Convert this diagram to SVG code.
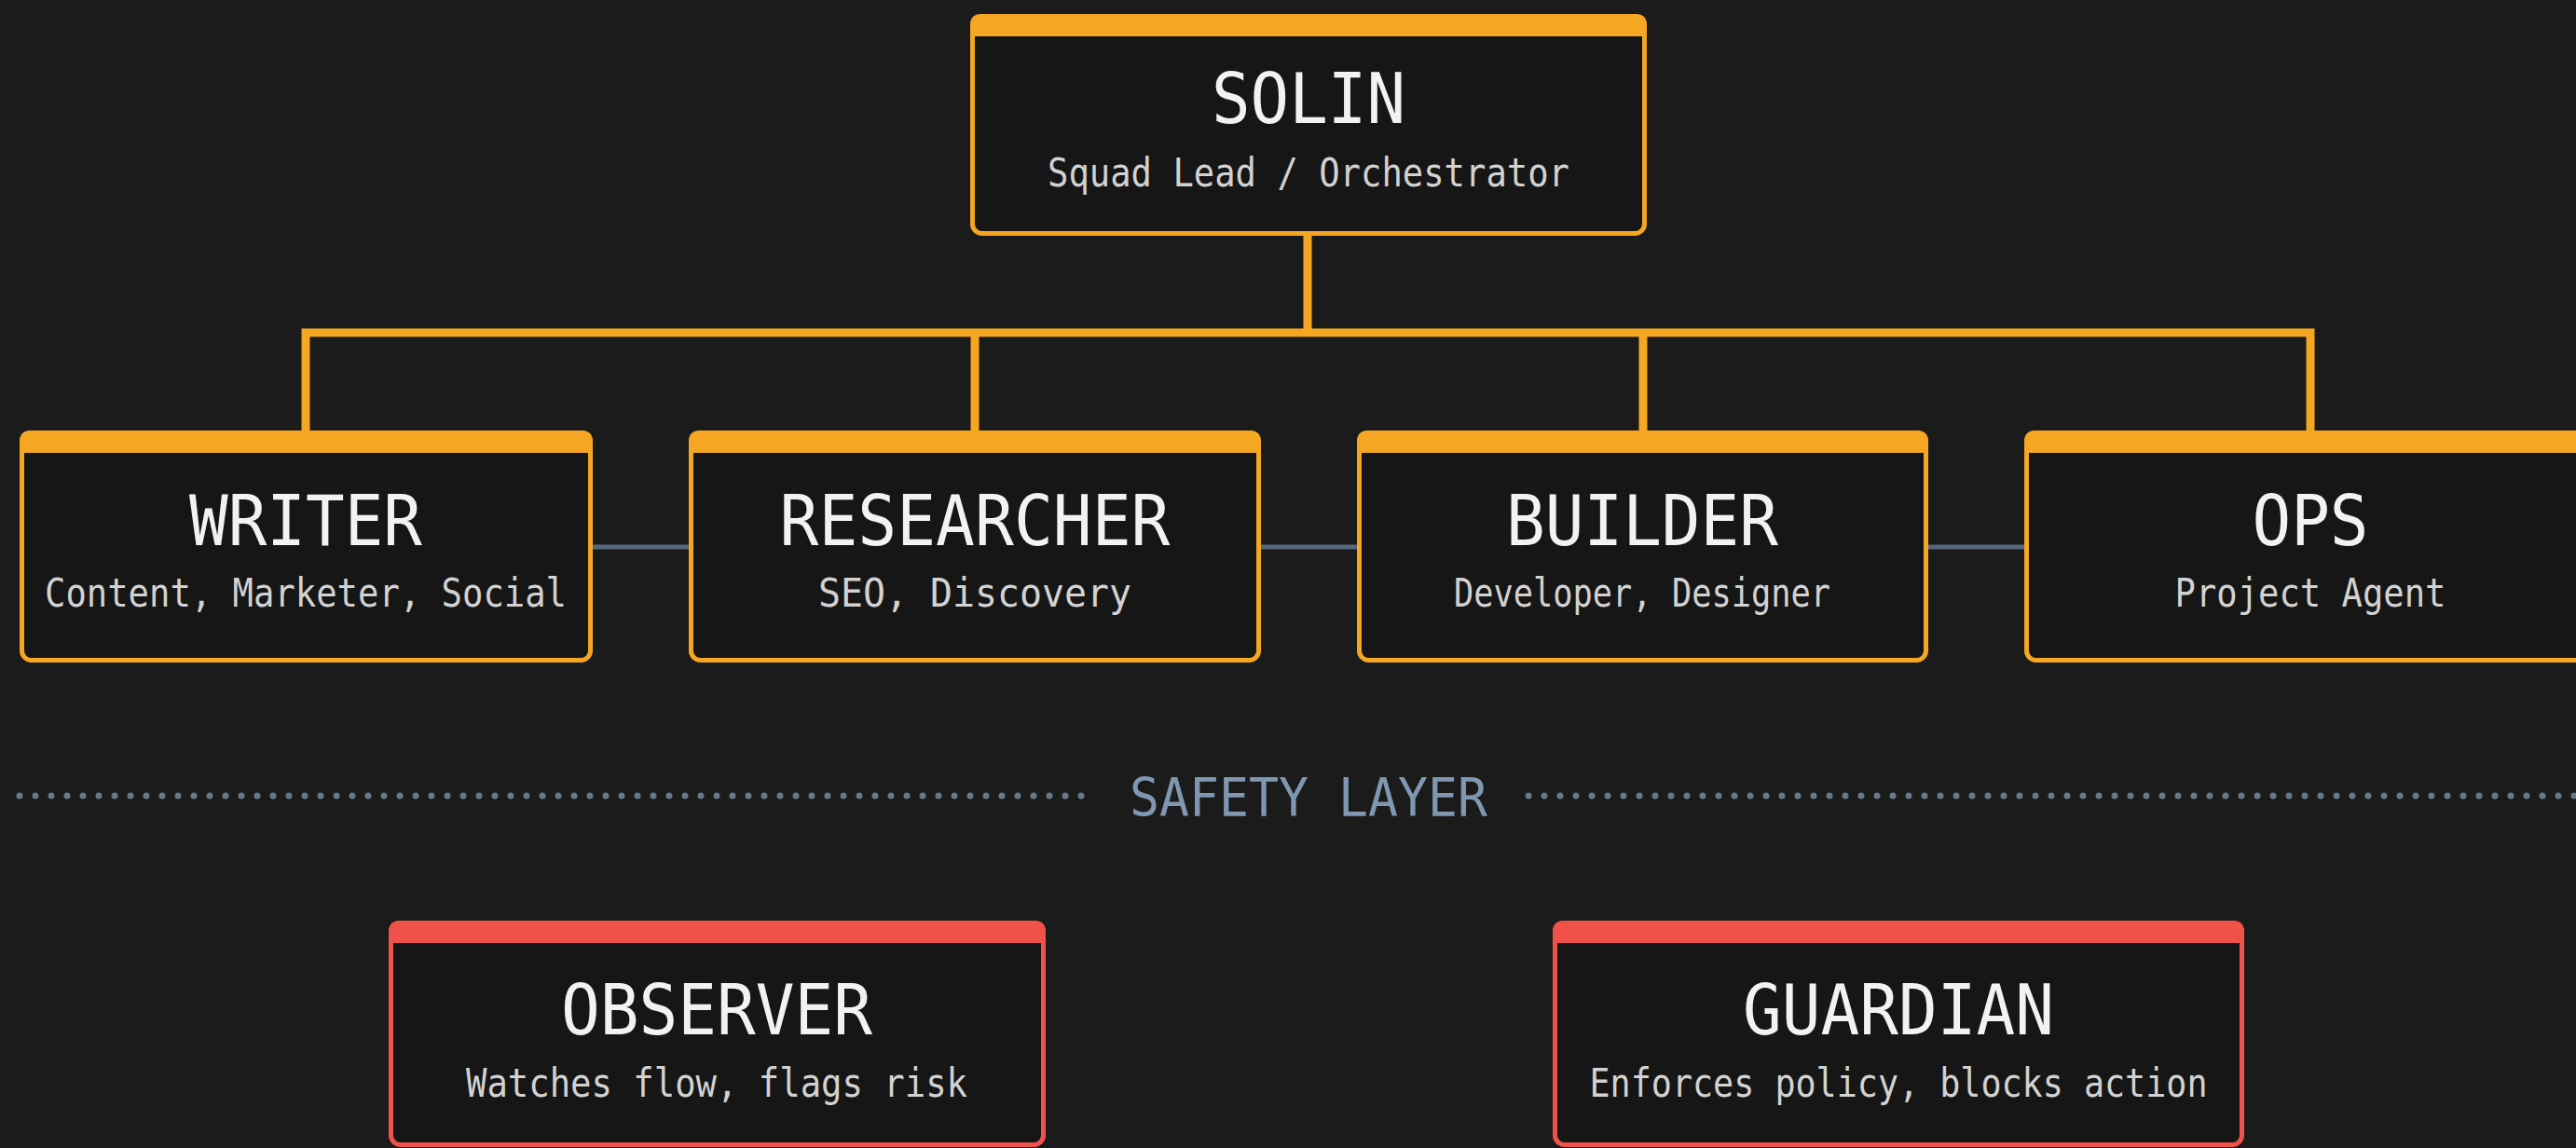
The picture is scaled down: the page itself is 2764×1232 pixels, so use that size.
<svg xmlns="http://www.w3.org/2000/svg" width="2764" height="1232" viewBox="0 0 2764 1232">
<style>
.box{fill:#161616;stroke-width:5}
.o{stroke:#f5a623}
.r{stroke:#f0524a}
.bo{fill:#f5a623}
.br{fill:#f0524a}
.t{font-family:"DejaVu Sans Mono","Liberation Mono",monospace;font-size:75px;fill:#f2f2f2;text-anchor:middle}
.s{font-family:"DejaVu Sans Mono","Liberation Mono",monospace;font-size:42px;fill:#d2d2d2;text-anchor:middle}
.bus{fill:none;stroke:#f5a623;stroke-width:9;stroke-linejoin:miter}
.peer{stroke:#55687b;stroke-width:5}
.dots{fill:none;stroke:#66788a;stroke-width:7;stroke-linecap:round;stroke-dasharray:0 17}
.lbl{font-family:"DejaVu Sans Mono","Liberation Mono",monospace;font-size:57px;fill:#7f97b1;text-anchor:middle}
</style>
<rect width="2764" height="1232" fill="#1b1b1b"/>
<g id="connectors">
<path class="bus" d="M1403 253 V357"/>
<path class="bus" d="M328 462 V357 H2479 V462"/>
<path class="bus" d="M1046 357 V462"/>
<path class="bus" d="M1763 357 V462"/>
<line class="peer" x1="636" y1="587" x2="739" y2="587"/>
<line class="peer" x1="1353" y1="587" x2="1456" y2="587"/>
<line class="peer" x1="2069" y1="587" x2="2172" y2="587"/>
</g>
<g id="safety-divider">
<path class="dots" d="M21 854 H1164"/>
<path class="dots" d="M1640 854 H2764"/>
<text class="lbl" x="1404" y="876" textLength="384" lengthAdjust="spacingAndGlyphs">SAFETY LAYER</text>
</g>
<g id="solin">
<rect class="box o" x="1043.5" y="17.5" width="721" height="233" rx="10"/>
<path class="bo" d="M1041 39 V27 Q1041 15 1053 15 H1755 Q1767 15 1767 27 V39 Z"/>
<text class="t" x="1404" y="132" textLength="208" lengthAdjust="spacingAndGlyphs">SOLIN</text>
<text class="s" x="1404" y="200" textLength="560" lengthAdjust="spacingAndGlyphs">Squad Lead / Orchestrator</text>
</g>
<g id="writer">
<rect class="box o" x="23.5" y="464.5" width="610" height="244" rx="10"/>
<path class="bo" d="M21 486 V474 Q21 462 33 462 H624 Q636 462 636 474 V486 Z"/>
<text class="t" x="328" y="585" textLength="250" lengthAdjust="spacingAndGlyphs">WRITER</text>
<text class="s" x="328" y="651" textLength="560" lengthAdjust="spacingAndGlyphs">Content, Marketer, Social</text>
</g>
<g id="researcher">
<rect class="box o" x="741.5" y="464.5" width="609" height="244" rx="10"/>
<path class="bo" d="M739 486 V474 Q739 462 751 462 H1341 Q1353 462 1353 474 V486 Z"/>
<text class="t" x="1046" y="585" textLength="419" lengthAdjust="spacingAndGlyphs">RESEARCHER</text>
<text class="s" x="1046" y="651" textLength="336" lengthAdjust="spacingAndGlyphs">SEO, Discovery</text>
</g>
<g id="builder">
<rect class="box o" x="1458.5" y="464.5" width="608" height="244" rx="10"/>
<path class="bo" d="M1456 486 V474 Q1456 462 1468 462 H2057 Q2069 462 2069 474 V486 Z"/>
<text class="t" x="1762" y="585" textLength="292" lengthAdjust="spacingAndGlyphs">BUILDER</text>
<text class="s" x="1762" y="651" textLength="404" lengthAdjust="spacingAndGlyphs">Developer, Designer</text>
</g>
<g id="ops">
<rect class="box o" x="2174.5" y="464.5" width="610" height="244" rx="10"/>
<path class="bo" d="M2172 486 V474 Q2172 462 2184 462 H2775 Q2787 462 2787 474 V486 Z"/>
<text class="t" x="2479" y="585" textLength="125" lengthAdjust="spacingAndGlyphs">OPS</text>
<text class="s" x="2479" y="651" textLength="291" lengthAdjust="spacingAndGlyphs">Project Agent</text>
</g>
<g id="observer">
<rect class="box r" x="419.5" y="990.5" width="700" height="238" rx="10"/>
<path class="br" d="M417 1012 V1000 Q417 988 429 988 H1110 Q1122 988 1122 1000 V1012 Z"/>
<text class="t" x="769" y="1110" textLength="334" lengthAdjust="spacingAndGlyphs">OBSERVER</text>
<text class="s" x="769" y="1177" textLength="538" lengthAdjust="spacingAndGlyphs">Watches flow, flags risk</text>
</g>
<g id="guardian">
<rect class="box r" x="1668.5" y="990.5" width="737" height="238" rx="10"/>
<path class="br" d="M1666 1012 V1000 Q1666 988 1678 988 H2396 Q2408 988 2408 1000 V1012 Z"/>
<text class="t" x="2037" y="1110" textLength="334" lengthAdjust="spacingAndGlyphs">GUARDIAN</text>
<text class="s" x="2037" y="1177" textLength="663" lengthAdjust="spacingAndGlyphs">Enforces policy, blocks action</text>
</g>
</svg>
